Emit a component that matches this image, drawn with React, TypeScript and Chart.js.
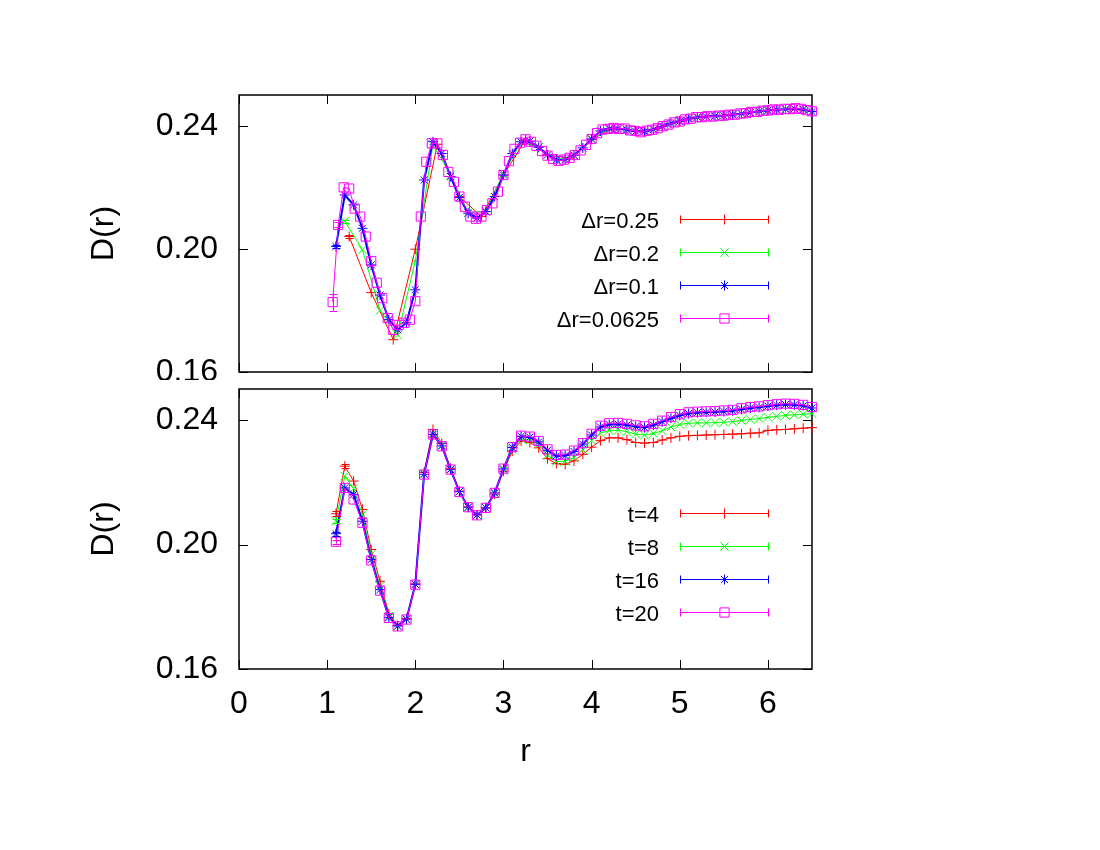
import React, { useEffect, useRef } from "react";
import { Chart, registerables } from "chart.js";
import { drawPoint } from "chart.js/helpers";

Chart.register(...registerables);

const FONT = '"Liberation Sans", Arial, Helvetica, sans-serif';

// ---------- axes ----------
const xTicks = [0, 1, 2, 3, 4, 5, 6];
const yTicks = [0.16, 0.2, 0.24];
const X_MIN = 0;
const X_MAX = 6.5;
const Y_MIN = 0.16;
const Y_MAX = 0.25;

// ---------- top panel: bin width comparison ----------
const topLabels = ["\u0394r=0.25", "\u0394r=0.2", "\u0394r=0.1", "\u0394r=0.0625"];
const topStart = [1.25, 1.2, 1.1, 1.0625];
const topStep = [0.25, 0.2, 0.1, 0.0625];

const topDr025 = [
  0.2040, 0.1858, 0.1705, 0.1999, 0.2340, 0.2170, 0.2105, 0.2240, 0.2354, 0.2305, 0.2295,
  0.2356, 0.2392, 0.2383, 0.2392, 0.2415, 0.2428, 0.2433, 0.2441, 0.2450, 0.2454, 0.2447,
];
const topDr02 = [
  0.2090, 0.1997, 0.1800, 0.1720, 0.1960, 0.2340, 0.2240, 0.2118, 0.2122, 0.2245, 0.2347,
  0.2330, 0.2290, 0.2303, 0.2356, 0.2390, 0.2387, 0.2381, 0.2398, 0.2415, 0.2428, 0.2432,
  0.2436, 0.2443, 0.2450, 0.2454, 0.2453,
];
const topDr01 = [
  0.2008, 0.2175, 0.2143, 0.2067, 0.1948, 0.1850, 0.1770, 0.1737, 0.1760, 0.1867, 0.2224,
  0.2348, 0.2310, 0.2235, 0.2167, 0.2116, 0.2100, 0.2121, 0.2170, 0.2240, 0.2310, 0.2348,
  0.2350, 0.2330, 0.2305, 0.2289, 0.2290, 0.2304, 0.2328, 0.2357, 0.2383, 0.2391, 0.2391,
  0.2387, 0.2382, 0.2381, 0.2388, 0.2398, 0.2408, 0.2415, 0.2423, 0.2428, 0.2430, 0.2432,
  0.2433, 0.2436, 0.2439, 0.2443, 0.2447, 0.2450, 0.2452, 0.2454, 0.2456, 0.2453, 0.2446,
];
const topDr00625 = [
  0.1827, 0.2078, 0.2200, 0.2196, 0.2131, 0.2105, 0.2040, 0.1960, 0.1890, 0.1840, 0.1775,
  0.1737, 0.1753, 0.1760, 0.1770, 0.1830, 0.2105, 0.2283, 0.2343, 0.2343, 0.2305, 0.2250,
  0.2218, 0.2170, 0.2137, 0.2105, 0.2098, 0.2105, 0.2126, 0.2148, 0.2186, 0.2240, 0.2285,
  0.2325, 0.2345, 0.2356, 0.2348, 0.2335, 0.2318, 0.2303, 0.2292, 0.2286, 0.2290, 0.2296,
  0.2305, 0.2320, 0.2338, 0.2357, 0.2376, 0.2388, 0.2390, 0.2393, 0.2390, 0.2391, 0.2385,
  0.2383, 0.2379, 0.2384, 0.2387, 0.2392, 0.2399, 0.2404, 0.2411, 0.2414, 0.2421, 0.2423,
  0.2428, 0.2428, 0.2431, 0.2430, 0.2433, 0.2433, 0.2436, 0.2436, 0.2440, 0.2441, 0.2445,
  0.2445, 0.2449, 0.2450, 0.2453, 0.2452, 0.2455, 0.2454, 0.2457, 0.2455, 0.2451, 0.2447,
];
const topErrDr025 = [0.0006];
const topErrDr02 = [0.0005];
const topErrDr01 = [0.0006];
const topErrDr00625 = [0.0028, 0.0008];

// ---------- bottom panel: time comparison ----------
const botLabels = ["t=4", "t=8", "t=16", "t=20"];
const botStart = 1.1;
const botStep = 0.1;

const botT4 = [
  0.2099, 0.2252, 0.2204, 0.2113, 0.1984, 0.1882, 0.1778, 0.1740, 0.1762, 0.1874, 0.2232,
  0.2370, 0.2325, 0.2245, 0.2172, 0.2121, 0.2096, 0.2117, 0.2162, 0.2236, 0.2300, 0.2333,
  0.2328, 0.2311, 0.2276, 0.2260, 0.2258, 0.2269, 0.2290, 0.2313, 0.2334, 0.2343, 0.2343,
  0.2337, 0.2328, 0.2326, 0.2328, 0.2336, 0.2343, 0.2348, 0.2350, 0.2351, 0.2352, 0.2353,
  0.2354, 0.2355, 0.2356, 0.2358, 0.2359, 0.2367, 0.2369, 0.2370, 0.2372, 0.2374, 0.2376,
];
const botT8 = [
  0.2075, 0.2220, 0.2180, 0.2096, 0.1968, 0.1866, 0.1770, 0.1738, 0.1760, 0.1872, 0.2228,
  0.2358, 0.2320, 0.2243, 0.2170, 0.2120, 0.2095, 0.2118, 0.2164, 0.2238, 0.2305, 0.2340,
  0.2336, 0.2322, 0.2288, 0.2267, 0.2268, 0.2280, 0.2305, 0.2335, 0.2358, 0.2367, 0.2367,
  0.2363, 0.2355, 0.2352, 0.2357, 0.2366, 0.2378, 0.2386, 0.2390, 0.2391, 0.2391, 0.2392,
  0.2393, 0.2395, 0.2399, 0.2402, 0.2405, 0.2409, 0.2412, 0.2415, 0.2417, 0.2419, 0.2421,
];
const botT16 = [
  0.2035, 0.2182, 0.2161, 0.2075, 0.1952, 0.1855, 0.1766, 0.1738, 0.1760, 0.1872, 0.2226,
  0.2354, 0.2317, 0.2241, 0.2170, 0.2120, 0.2095, 0.2118, 0.2166, 0.2243, 0.2312, 0.2348,
  0.2345, 0.2330, 0.2303, 0.2285, 0.2286, 0.2299, 0.2323, 0.2352, 0.2378, 0.2386, 0.2387,
  0.2384, 0.2379, 0.2376, 0.2384, 0.2395, 0.2406, 0.2415, 0.2421, 0.2424, 0.2425, 0.2426,
  0.2428, 0.2430, 0.2435, 0.2439, 0.2441, 0.2445, 0.2448, 0.2450, 0.2449, 0.2446, 0.2439,
];
const botT20 = [
  0.2009, 0.2182, 0.2145, 0.2070, 0.1949, 0.1852, 0.1764, 0.1737, 0.1759, 0.1871, 0.2225,
  0.2354, 0.2316, 0.2241, 0.2169, 0.2120, 0.2094, 0.2118, 0.2166, 0.2244, 0.2313, 0.2350,
  0.2347, 0.2333, 0.2306, 0.2288, 0.2289, 0.2302, 0.2326, 0.2356, 0.2382, 0.2390, 0.2391,
  0.2388, 0.2383, 0.2380, 0.2388, 0.2398, 0.2410, 0.2419, 0.2425, 0.2427, 0.2428, 0.2429,
  0.2431, 0.2433, 0.2438, 0.2442, 0.2444, 0.2448, 0.2451, 0.2453, 0.2452, 0.2449, 0.2442,
];
const botErrT4 = [0.0008, 0.0006];
const botErrT8 = [0.0007];
const botErrT16 = [0.0006];
const botErrT20 = [0.0006];

// ---------- styles ----------
const COLORS = ["#ff0000", "#00ff00", "#0000ff", "#ff00ff"];
const STYLES = ["cross", "crossRot", "star", "rect"];
const RADII = [5, 6, 5, 6.5];
const WIDTHS = [1, 1, 2, 1];

function toPoints(x0: number, dx: number, ys: number[]) {
  return ys.map((v, i) => ({ x: +(x0 + i * dx).toFixed(4), y: v }));
}

function makeDataset(i: number, label: string, data: any[], errors: number[]) {
  return {
    label,
    data,
    errors,
    borderColor: COLORS[i],
    backgroundColor: COLORS[i],
    borderWidth: WIDTHS[i],
    pointStyle: STYLES[i],
    pointRadius: RADII[i],
    pointHoverRadius: RADII[i],
    pointBorderColor: COLORS[i],
    pointBackgroundColor: "rgba(0,0,0,0)",
    pointBorderWidth: 1,
    tension: 0,
    clip: false,
    order: 4 - i,
  };
}

const framePlugin = {
  id: "frameTicks",
  beforeDatasetsDraw(chart: any) {
    const { ctx, chartArea: a, scales } = chart;
    const xs = scales.x;
    const ys = scales.y;
    ctx.save();
    ctx.strokeStyle = "#000";
    ctx.lineWidth = 1;
    ctx.beginPath();
    for (const t of xTicks) {
      const px = Math.round(xs.getPixelForValue(t)) + 0.5;
      ctx.moveTo(px, a.bottom);
      ctx.lineTo(px, a.bottom - 9);
      ctx.moveTo(px, a.top);
      ctx.lineTo(px, a.top + 9);
    }
    for (const t of yTicks) {
      const py = Math.round(ys.getPixelForValue(t)) + 0.5;
      ctx.moveTo(a.left, py);
      ctx.lineTo(a.left + 9, py);
      ctx.moveTo(a.right, py);
      ctx.lineTo(a.right - 9, py);
    }
    ctx.stroke();
    ctx.lineWidth = 1.5;
    ctx.strokeRect(a.left, a.top, a.right - a.left, a.bottom - a.top);
    ctx.restore();
  },
  afterDatasetsDraw(chart: any) {
    const { ctx, chartArea: a, scales } = chart;
    const ys = scales.y;
    // error bars
    chart.data.datasets.forEach((ds: any, di: number) => {
      const meta = chart.getDatasetMeta(di);
      const errs: number[] = ds.errors || [];
      ctx.save();
      ctx.strokeStyle = ds.borderColor;
      ctx.lineWidth = 1;
      ctx.beginPath();
      errs.forEach((e, j) => {
        const el = meta.data[j];
        if (!el || !e) return;
        const v = ds.data[j].y;
        const x = Math.round(el.x) + 0.5;
        const y1 = ys.getPixelForValue(v - e);
        const y2 = ys.getPixelForValue(v + e);
        ctx.moveTo(x, y1);
        ctx.lineTo(x, y2);
        ctx.moveTo(x - 4, Math.round(y1) + 0.5);
        ctx.lineTo(x + 4, Math.round(y1) + 0.5);
        ctx.moveTo(x - 4, Math.round(y2) + 0.5);
        ctx.lineTo(x + 4, Math.round(y2) + 0.5);
      });
      ctx.stroke();
      ctx.restore();
    });
    // legend (gnuplot style)
    const textRight = a.left + 420;
    const x0 = a.left + 441;
    const x1 = a.left + 530;
    const xm = (x0 + x1) / 2;
    chart.data.datasets.forEach((ds: any, i: number) => {
      const y = Math.round(a.top + 124 + i * 33) + 0.5;
      ctx.save();
      ctx.fillStyle = "#000";
      ctx.font = `22px ${FONT}`;
      ctx.textAlign = "right";
      ctx.textBaseline = "middle";
      ctx.fillText(ds.label, textRight, y + 2);
      ctx.strokeStyle = ds.borderColor;
      ctx.lineWidth = 1;
      ctx.beginPath();
      ctx.moveTo(x0, y);
      ctx.lineTo(x1, y);
      ctx.moveTo(x0 + 0.5, y - 4);
      ctx.lineTo(x0 + 0.5, y + 4);
      ctx.moveTo(x1 - 0.5, y - 4);
      ctx.lineTo(x1 - 0.5, y + 4);
      ctx.stroke();
      ctx.fillStyle = "rgba(0,0,0,0)";
      drawPoint(ctx, { pointStyle: ds.pointStyle, radius: ds.pointRadius, borderWidth: 1, rotation: 0 } as any, xm, y);
      ctx.restore();
    });
  },
};

function makeOptions(showX: boolean, padding: any) {
  const tickFont = { family: FONT, size: 32 };
  return {
    responsive: false,
    maintainAspectRatio: false,
    animation: false as const,
    devicePixelRatio: 1,
    events: [] as any[],
    layout: { padding },
    plugins: { legend: { display: false }, tooltip: { enabled: false } },
    scales: {
      x: {
        type: "linear" as const,
        display: showX,
        min: X_MIN,
        max: X_MAX,
        afterBuildTicks: (s: any) => {
          s.ticks = xTicks.map((v) => ({ value: v }));
        },
        afterFit: (s: any) => {
          s.height = showX ? 102 : 0;
          s.paddingLeft = 0;
          s.paddingRight = 0;
        },
        grid: { display: false, drawTicks: false },
        border: { display: false },
        ticks: {
          padding: 16,
          maxRotation: 0,
          autoSkip: false,
          color: "#000",
          font: tickFont,
          callback: (v: any) => String(v),
        },
        title: { display: showX, text: "r", color: "#000", font: tickFont, padding: 0 },
      },
      y: {
        type: "linear" as const,
        min: Y_MIN,
        max: Y_MAX,
        afterBuildTicks: (s: any) => {
          s.ticks = yTicks.map((v) => ({ value: v }));
        },
        afterFit: (s: any) => {
          s.width = 154;
          s.paddingTop = 0;
          s.paddingBottom = 0;
        },
        grid: { display: false, drawTicks: false },
        border: { display: false },
        ticks: {
          padding: 21,
          color: "#000",
          font: tickFont,
          callback: (v: any) => Number(v).toFixed(2),
        },
        title: { display: true, text: "D(r)", color: "#000", font: tickFont, padding: 0 },
      },
    },
  };
}

export default function App() {
  const topRef = useRef<HTMLCanvasElement | null>(null);
  const botRef = useRef<HTMLCanvasElement | null>(null);

  useEffect(() => {
    const topSeries = [topDr025, topDr02, topDr01, topDr00625];
    const topErrs = [topErrDr025, topErrDr02, topErrDr01, topErrDr00625];
    const topDatasets = topSeries.map((ys, i) =>
      makeDataset(i, topLabels[i], toPoints(topStart[i], topStep[i], ys), topErrs[i])
    );
    const botSeries = [botT4, botT8, botT16, botT20];
    const botErrs = [botErrT4, botErrT8, botErrT16, botErrT20];
    const botDatasets = botSeries.map((ys, i) =>
      makeDataset(i, botLabels[i], toPoints(botStart, botStep, ys), botErrs[i])
    );

    const top = new Chart(topRef.current as HTMLCanvasElement, {
      type: "line",
      data: { datasets: topDatasets as any },
      options: makeOptions(false, { left: 85, right: 288, top: 95, bottom: 8 }) as any,
      plugins: [framePlugin],
    });
    const bot = new Chart(botRef.current as HTMLCanvasElement, {
      type: "line",
      data: { datasets: botDatasets as any },
      options: makeOptions(true, { left: 85, right: 288, top: 9, bottom: 79 }) as any,
      plugins: [framePlugin],
    });
    return () => {
      top.destroy();
      bot.destroy();
    };
  }, []);

  return (
    <div style={{ position: "absolute", left: 0, top: 0, width: 1100, height: 850, background: "#fff" }}>
      <canvas
        ref={topRef}
        width={1100}
        height={380}
        style={{ position: "absolute", left: 0, top: 0, width: 1100, height: 380, display: "block" }}
      />
      <canvas
        ref={botRef}
        width={1100}
        height={470}
        style={{ position: "absolute", left: 0, top: 380, width: 1100, height: 470, display: "block" }}
      />
    </div>
  );
}
